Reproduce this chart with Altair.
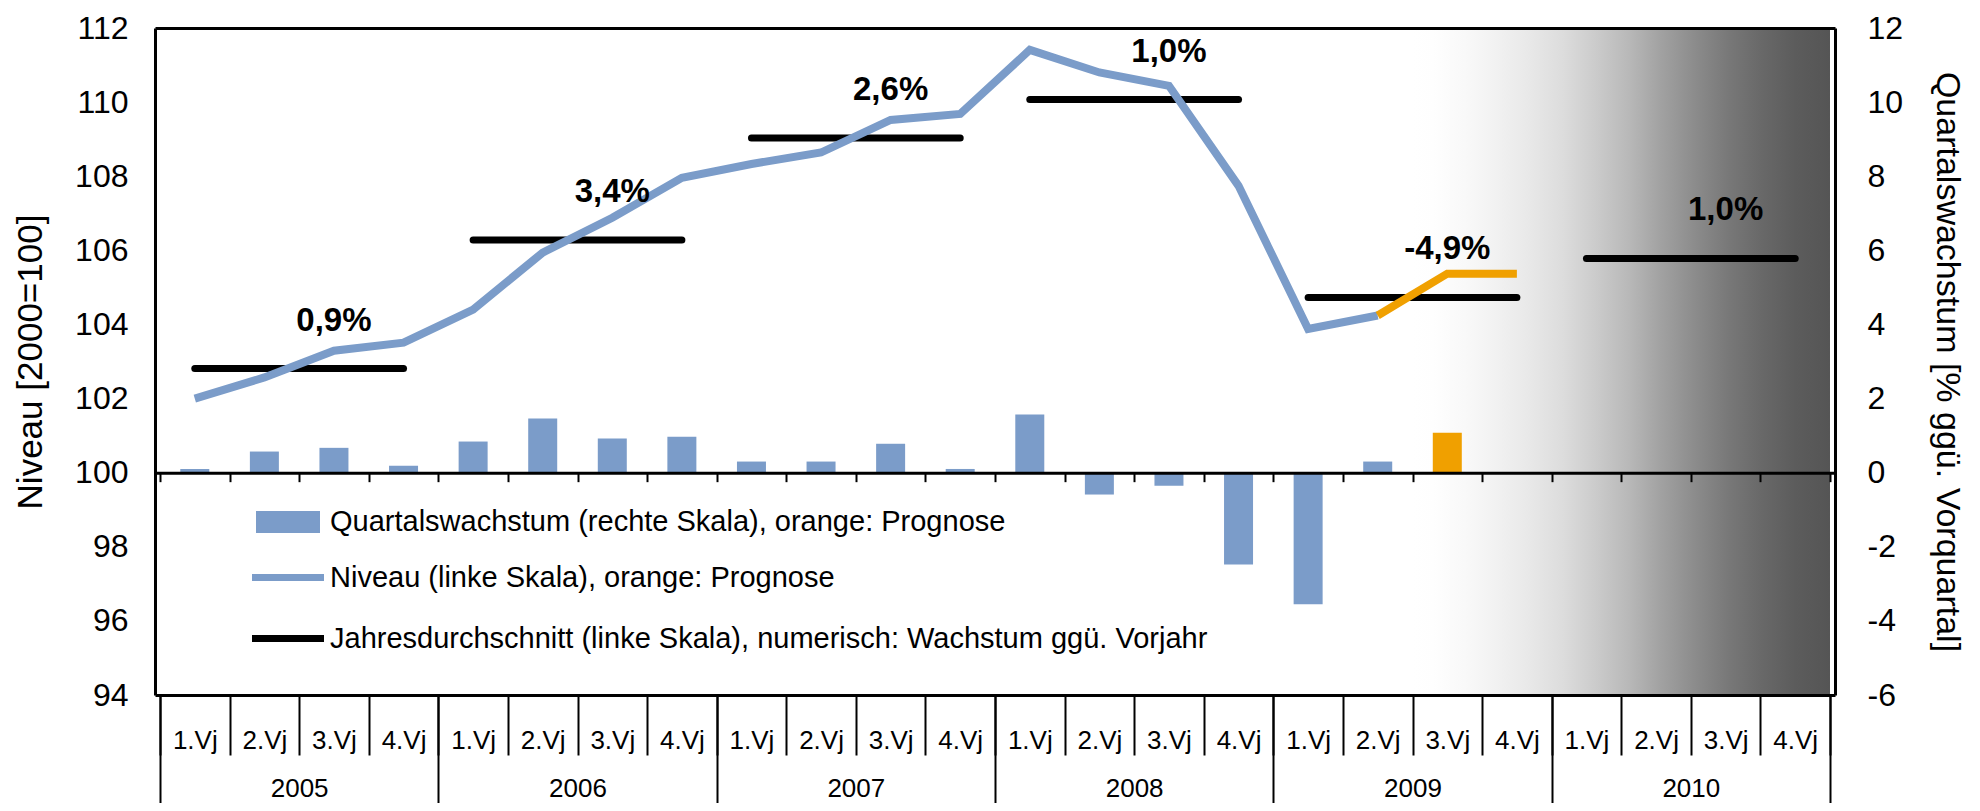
import json
import altair as alt
import pandas as pd

# ---------------- data ----------------
years = [2005, 2006, 2007, 2008, 2009, 2010]
quarter_names = ["1.Vj", "2.Vj", "3.Vj", "4.Vj"]
level = [102.00, 102.57, 103.29, 103.51, 104.40, 105.94, 106.88, 107.96,
         108.33, 108.64, 109.52, 109.68, 111.41, 110.80, 110.44, 107.74,
         103.88, 104.24, 105.37, 105.37]
growth = [0.10, 0.57, 0.67, 0.19, 0.84, 1.46, 0.92, 0.97,
          0.30, 0.30, 0.78, 0.10, 1.57, -0.59, -0.35, -2.48,
          -3.55, 0.30, 1.08, 0.00]
forecast_from = 18  # index of first forecast quarter (2009 3.Vj)
annual_mean = [102.81, 106.28, 109.03, 110.07, 104.73, 105.78]
annual_growth = ["0,9%", "3,4%", "2,6%", "1,0%", "-4,9%", "1,0%"]
series_names = [
    "Quartalswachstum (rechte Skala), orange: Prognose",
    "Niveau (linke Skala), orange: Prognose",
    "Jahresdurchschnitt (linke Skala), numerisch: Wachstum ggü. Vorjahr",
]

# ---------------- styles ----------------
BLUE = "#7b9cc9"
ORANGE = "#f0a000"
FONT = "Liberation Sans"
W, H = 1680, 667
LEFT_DOM = [94, 112]
RIGHT_DOM = [-6, 12]
NQ = len(years) * 4

# ---------------- tables ----------------
q = pd.DataFrame({"i": range(len(level)), "level": level, "growth": growth})
q["x"] = q["i"] + 0.5
q["bar_s"] = series_names[0]
q["line_s"] = series_names[1]
line_actual = q[q["i"] <= forecast_from - 1]
line_fc = q[q["i"] >= forecast_from - 1]
bar_actual = q[q["i"] < forecast_from]
bar_fc = q[q["i"] >= forecast_from]

a = pd.DataFrame({"k": range(len(years)), "mean": annual_mean, "label": annual_growth})
a["x0"] = a["k"] * 4 + 0.5
a["x1"] = a["k"] * 4 + 3.5
a["xt"] = a["k"] * 4 + 2.5
a["s"] = series_names[2]

bg = pd.DataFrame({"x0": [forecast_from], "x1": [NQ]})

x_scale = alt.Scale(domain=[0, NQ], nice=False, zero=False)
yl_scale = alt.Scale(domain=LEFT_DOM, nice=False, zero=False)
yr_scale = alt.Scale(domain=RIGHT_DOM, nice=False, zero=False)

zero_offset = -(0 - RIGHT_DOM[0]) / (RIGHT_DOM[1] - RIGHT_DOM[0]) * H

common_x = dict(grid=False, title=None, labelFlush=False, labelOverlap=False)

axis_qsep = alt.Axis(orient="bottom", values=list(range(NQ + 1)), tickSize=60, tickWidth=2,
                     tickColor="black", labels=False, domain=True, domainWidth=3,
                     domainColor="black", zindex=1, **common_x)
axis_ysep = alt.Axis(orient="bottom", values=list(range(0, NQ + 1, 4)), tickSize=120, tickWidth=2,
                     tickColor="black", labels=False, domain=False, zindex=1, **common_x)
axis_zero = alt.Axis(orient="bottom", offset=zero_offset, values=list(range(NQ + 1)), tickSize=9,
                     tickWidth=2, tickColor="black", labels=False, domain=True, domainWidth=3,
                     domainColor="black", zindex=1, **common_x)
q_expr = json.dumps(quarter_names) + "[floor(datum.value) % 4]"
axis_qlab = alt.Axis(orient="bottom", values=[i + 0.5 for i in range(NQ)], ticks=False, tickSize=0,
                     domain=False, labelExpr=q_expr, labelFontSize=26, labelPadding=45,
                     labelBaseline="middle", labelColor="black", **common_x)
y_expr = json.dumps([str(y) for y in years]) + "[floor(datum.value / 4)]"
axis_ylab = alt.Axis(orient="bottom", values=[k * 4 + 2 for k in range(len(years))], ticks=False,
                     tickSize=0, domain=False, labelExpr=y_expr, labelFontSize=26, labelPadding=93,
                     labelBaseline="middle", labelColor="black", **common_x)
axis_top = alt.Axis(orient="top", ticks=False, labels=False, domain=True, domainWidth=3,
                    domainColor="black", zindex=1, **common_x)

axis_left = alt.Axis(orient="left", values=list(range(94, 113, 2)), ticks=False, tickSize=0,
                     labelPadding=27, labelFontSize=32, labelColor="black", domain=True,
                     domainWidth=3, domainColor="black", grid=False, zindex=1, labelOverlap=False,
                     title="Niveau [2000=100]", titleFontSize=35, titleFontWeight="normal",
                     titleX=-125, titleY=H / 2, titleAngle=270, titleAlign="center",
                     titleBaseline="middle", titleColor="black")
axis_right = alt.Axis(orient="right", values=list(range(-6, 13, 2)), ticks=False, tickSize=0,
                      labelPadding=32, labelFontSize=32, labelColor="black",
                      labelExpr="'' + datum.value", domain=True, domainWidth=3,
                      domainColor="black", grid=False, zindex=1, labelOverlap=False,
                      title="Quartalswachstum [% ggü. Vorquartal]", titleFontSize=34,
                      titleFontWeight="normal", titleX=111, titleY=H / 2, titleAngle=90,
                      titleAlign="center", titleBaseline="middle", titleColor="black")

RECT_PATH = "M-1,-0.6875L3,-0.6875L3,0.6875L-1,0.6875Z"
LINE_PATH = "M-1.25,0L3.25,0"
color_legend = alt.Legend(orient="none", legendX=101, legendY=478, title=None, direction="vertical",
                          symbolType=RECT_PATH, symbolSize=1024, symbolStrokeWidth=0,
                          labelFontSize=29, labelLimit=1500, labelOffset=42, padding=0,
                          labelColor="black")
stroke_legend = alt.Legend(orient="none", legendX=97.5, legendY=530, title=None,
                           direction="vertical", symbolType=LINE_PATH, symbolSize=1024,
                           symbolStrokeWidth=7, labelFontSize=29, labelLimit=1500,
                           labelOffset=38.5, rowPadding=26, padding=0, labelColor="black")
color_scale = alt.Scale(domain=[series_names[0]], range=[BLUE])
stroke_scale = alt.Scale(domain=series_names[1:], range=[BLUE, "black"])

gradient = {
    "gradient": "linear", "x1": 0, "x2": 1, "y1": 0, "y2": 0,
    "stops": [
        {"offset": 0.0, "color": "#ffffff"},
        {"offset": 0.05, "color": "#fefefe"},
        {"offset": 0.124, "color": "#f9f9f9"},
        {"offset": 0.202, "color": "#f1f1f1"},
        {"offset": 0.281, "color": "#e8e8e8"},
        {"offset": 0.362, "color": "#dcdcdc"},
        {"offset": 0.44, "color": "#cbcbcb"},
        {"offset": 0.519, "color": "#b8b8b8"},
        {"offset": 0.6, "color": "#a0a0a0"},
        {"offset": 0.679, "color": "#8b8b8b"},
        {"offset": 0.757, "color": "#787878"},
        {"offset": 0.838, "color": "#686868"},
        {"offset": 0.917, "color": "#5c5c5c"},
        {"offset": 1.0, "color": "#555555"},
    ],
}

# ---------------- layers ----------------
bg_layer = alt.Chart(bg).mark_rect(color=gradient).encode(
    x=alt.X("x0:Q", scale=x_scale, axis=axis_qsep),
    x2="x1:Q",
)

bars = alt.Chart(bar_actual).mark_bar(size=29).encode(
    x=alt.X("x:Q", scale=x_scale, axis=axis_zero),
    y=alt.Y("growth:Q", scale=yr_scale, axis=axis_right),
    y2=alt.datum(0),
    color=alt.Color("bar_s:N", scale=color_scale, legend=color_legend),
)

bars_fc = alt.Chart(bar_fc).mark_bar(size=29, color=ORANGE).encode(
    x=alt.X("x:Q", scale=x_scale, axis=None),
    y=alt.Y("growth:Q", scale=yr_scale, axis=None),
    y2=alt.datum(0),
)

means = alt.Chart(a).mark_rule(strokeWidth=7, strokeCap="round").encode(
    x=alt.X("x0:Q", scale=x_scale, axis=axis_ylab),
    x2="x1:Q",
    y=alt.Y("mean:Q", scale=yl_scale, axis=None),
    stroke=alt.Stroke("s:N", scale=stroke_scale, legend=stroke_legend),
)

line = alt.Chart(line_actual).mark_line(strokeWidth=8).encode(
    x=alt.X("x:Q", scale=x_scale, axis=axis_qlab),
    y=alt.Y("level:Q", scale=yl_scale, axis=axis_left),
    stroke=alt.Stroke("line_s:N", scale=stroke_scale, legend=stroke_legend),
)

line_fc_layer = alt.Chart(line_fc).mark_line(strokeWidth=8, color=ORANGE).encode(
    x=alt.X("x:Q", scale=x_scale, axis=axis_top),
    y=alt.Y("level:Q", scale=yl_scale, axis=None),
)

labels = alt.Chart(a).mark_text(fontSize=33, fontWeight="bold", dy=-48, color="black",
                                baseline="middle", align="center").encode(
    x=alt.X("xt:Q", scale=x_scale, axis=axis_ysep),
    y=alt.Y("mean:Q", scale=yl_scale, axis=None),
    text="label:N",
)

chart = (
    alt.layer(bg_layer, bars, bars_fc, means, line, line_fc_layer, labels)
    .resolve_scale(y="independent")
    .resolve_axis(x="independent", y="independent")
    .properties(
        width=W, height=H,
        padding={"left": 147, "top": 20, "right": 137, "bottom": 108},
        autosize=alt.AutoSizeParams(type="none"),
    )
    .configure(font=FONT)
    .configure_view(stroke=None)
    .configure_axis(labelFont=FONT, titleFont=FONT)
    .configure_legend(labelFont=FONT)
)

chart.save("out.html", embed_options={"renderer": "svg", "actions": False})
